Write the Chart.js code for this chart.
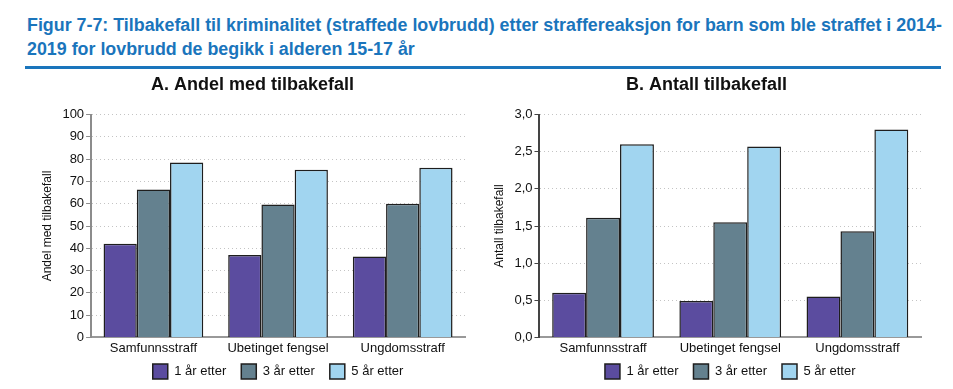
<!DOCTYPE html>
<html>
<head>
<meta charset="utf-8">
<script src="https://cdn.jsdelivr.net/npm/chart.js@4"></script>
<style>
  body { margin: 0; width: 953px; height: 389px; background: #fff; position: relative; overflow: hidden; }
  .title {
    position: absolute; left: 27px; top: 13px; width: 920px;
    font-family: "Liberation Sans", Arial, sans-serif; font-weight: bold;
    font-size: 17.85px; line-height: 24px; color: #1a75bc; white-space: nowrap;
  }
  .rule { position: absolute; left: 25px; top: 66px; width: 916px; height: 3px; background: #1a75bc; }
  .box { position: absolute; top: 70px; height: 329px; }
  #boxA { left: 28px; width: 446px; }
  #boxB { left: 480px; width: 450px; }
</style>
</head>
<body>
<div class="title">Figur 7-7: Tilbakefall til kriminalitet (straffede lovbrudd) etter straffereaksjon for barn som ble straffet i 2014-<br>2019 for lovbrudd de begikk i alderen 15-17 år</div>
<div class="rule"></div>
<div class="box" id="boxA"><canvas id="chartA"></canvas></div>
<div class="box" id="boxB"><canvas id="chartB"></canvas></div>
<script>
const categories = ['Samfunnsstraff', 'Ubetinget fengsel', 'Ungdomsstraff'];
const seriesLabels = ['1 år etter', '3 år etter', '5 år etter'];
const seriesColors = ['#5b4c9f', '#64818f', '#a1d5f0'];

// A. Andel med tilbakefall (prosent)
const andel1 = [42, 37, 36.3];
const andel3 = [66.4, 59.6, 60];
const andel5 = [78.5, 75.3, 76.2];

// B. Antall tilbakefall
const antall1 = [0.6, 0.49, 0.55];
const antall3 = [1.61, 1.55, 1.43];
const antall5 = [2.6, 2.57, 2.8];

Chart.defaults.font.family = '"Liberation Sans", Arial, sans-serif';
Chart.defaults.color = '#111';
Chart.defaults.animation = false;

// legend padding also sets the gap between items; pull the legend up a bit so it sits closer to the axis
const legendNudge = {
  id: 'legendNudge',
  afterLayout(chart) {
    const lg = chart.legend;
    lg.top -= 10;
    lg.bottom -= 10;
  },
};

function makeChart(id, title, yTitle, series, yMax, yStep, axisColor, fmt) {
  const ctx = document.getElementById(id).getContext('2d');
  return new Chart(ctx, {
    type: 'bar',
    data: {
      labels: categories,
      datasets: series.map((d, i) => ({
        label: seriesLabels[i],
        data: d,
        backgroundColor: seriesColors[i],
        borderColor: '#1e1e1e',
        borderWidth: 1.5,
        categoryPercentage: 0.8,
        barPercentage: 1,
      })),
    },
    plugins: [legendNudge],
    options: {
      responsive: true,
      maintainAspectRatio: false,
      layout: { padding: { left: 12, right: 9, bottom: 0 } },
      plugins: {
        title: {
          display: true,
          text: title,
          font: { size: 18, weight: 'bold' },
          color: '#111',
          padding: { top: 4, bottom: 19 },
        },
        legend: {
          position: 'bottom',
          fullSize: false,
          labels: {
            boxWidth: 15,
            boxHeight: 15,
            padding: 15,
            font: { size: 13 },
            color: '#111',
          },
        },
        tooltip: { enabled: false },
      },
      scales: {
        x: {
          grid: { display: false, drawTicks: false },
          border: { display: true, color: '#999', width: 2 },
          ticks: { font: { size: 13 }, color: '#111', padding: 3 },
        },
        y: {
          min: 0,
          max: yMax,
          ticks: {
            stepSize: yStep,
            font: { size: 13 },
            color: '#111',
            padding: 2,
            callback: fmt,
          },
          grid: {
            color: '#c4c4c4',
            tickBorderDash: [],
            tickColor: axisColor,
            tickLength: 5,
          },
          border: { display: true, color: axisColor, width: 2, dash: [1, 3] },
          title: {
            display: true,
            text: yTitle,
            font: { size: 12 },
            color: '#111',
            padding: { top: 0, bottom: 6 },
          },
        },
      },
    },
  });
}

makeChart('chartA', 'A. Andel med tilbakefall', 'Andel med tilbakefall',
  [andel1, andel3, andel5], 100, 10, '#8c8c8c', (v) => v);
makeChart('chartB', 'B. Antall tilbakefall', 'Antall tilbakefall',
  [antall1, antall3, antall5], 3, 0.5, '#444',
  (v) => v.toFixed(1).replace('.', ','));
</script>
</body>
</html>
